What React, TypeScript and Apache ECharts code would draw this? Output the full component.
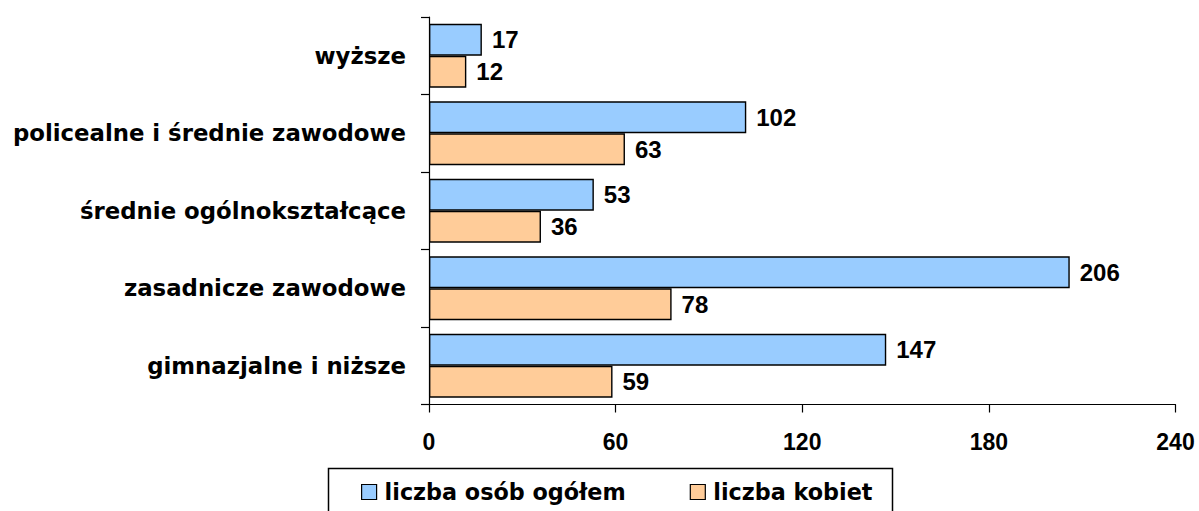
import React, { useEffect, useRef } from "react";
import * as echarts from "echarts";

const categories = [
  "gimnazjalne i niższe",
  "zasadnicze zawodowe",
  "średnie ogólnokształcące",
  "policealne i średnie zawodowe",
  "wyższe",
];
const seriesNames = ["liczba osób ogółem", "liczba kobiet"];
const totalValues = [147, 206, 53, 102, 17];
const womenValues = [59, 78, 36, 63, 12];
const xTicks = { min: 0, max: 240, interval: 60 };

export default function App() {
  const ref = useRef<HTMLDivElement>(null);
  useEffect(() => {
    if (!ref.current) return;
    const chart = echarts.init(ref.current, null, { renderer: "svg" });
    const labelStyle = {
      show: true,
      position: "right",
      distance: 10,
      color: "#000",
      fontFamily: "Liberation Sans",
      fontWeight: "bold",
      fontSize: 24,
    };
    chart.setOption({
      animation: false,
      backgroundColor: "#fff",
      grid: { left: 429, right: 23.5, top: 17, bottom: 106.5, containLabel: false },
      xAxis: {
        type: "value",
        min: xTicks.min,
        max: xTicks.max,
        interval: xTicks.interval,
        axisLine: { show: true, lineStyle: { color: "#000", width: 1.2 } },
        axisTick: { show: true, length: 8, lineStyle: { color: "#000", width: 1.2 } },
        splitLine: { show: false },
        axisLabel: {
          margin: 26,
          color: "#000",
          fontFamily: "Liberation Sans",
          fontWeight: "bold",
          fontSize: 23,
        },
      },
      yAxis: {
        type: "category",
        data: categories,
        axisLine: { show: true, lineStyle: { color: "#000", width: 1.2 } },
        axisTick: { show: true, length: 8, lineStyle: { color: "#000", width: 1.2 } },
        axisLabel: {
          margin: 23,
          color: "#000",
          fontFamily: "DejaVu Sans",
          fontWeight: "bold",
          fontSize: 22.8,
        },
      },
      legend: {
        left: 356,
        top: 476,
        itemWidth: 15,
        itemHeight: 15,
        itemGap: 64,
        icon: "rect",
        textStyle: {
          color: "#000",
          fontFamily: "DejaVu Sans",
          fontWeight: "bold",
          fontSize: 22.3,
          padding: [0, 0, 0, 3],
        },
        itemStyle: { borderColor: "#000", borderWidth: 1.2 },
        data: seriesNames,
      },
      graphic: [
        {
          type: "rect",
          z: -1,
          shape: { x: 328.5, y: 468.5, width: 564, height: 60 },
          style: { fill: "#fff", stroke: "#000", lineWidth: 1.5 },
        },
      ],
      series: [
        {
          name: seriesNames[0],
          type: "bar",
          data: totalValues,
          barWidth: 32,
          barGap: "0%",
          itemStyle: { color: "#99CCFF", borderColor: "#000", borderWidth: 1.4 },
          label: labelStyle,
        },
        {
          name: seriesNames[1],
          type: "bar",
          data: womenValues,
          barWidth: 32,
          barGap: "0%",
          itemStyle: { color: "#FFCC99", borderColor: "#000", borderWidth: 1.4 },
          label: labelStyle,
        },
      ],
    });
    return () => chart.dispose();
  }, []);
  return (
    <div
      ref={ref}
      style={{ position: "fixed", left: 0, top: 0, width: 1199, height: 511 }}
    />
  );
}
